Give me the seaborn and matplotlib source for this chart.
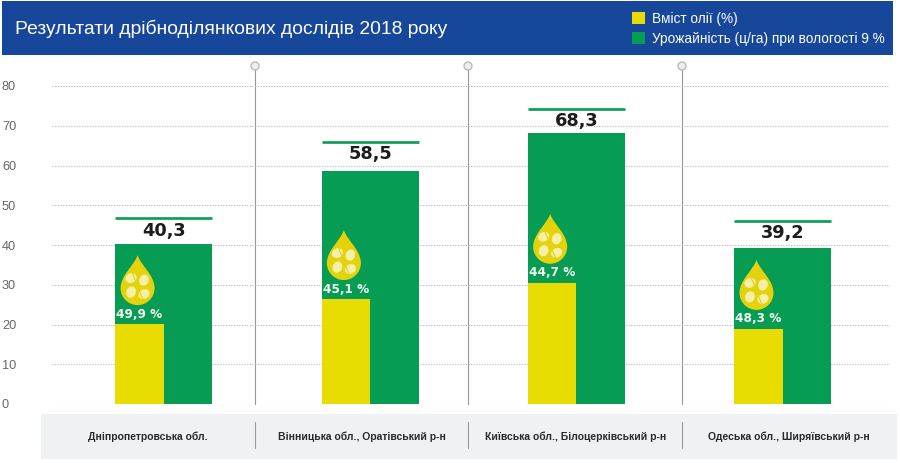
import matplotlib
matplotlib.use("Agg")
import matplotlib.pyplot as plt
import pandas as pd
import seaborn as sns
from matplotlib.patches import Circle, Ellipse, PathPatch, Rectangle
from matplotlib.path import Path
from matplotlib.transforms import Affine2D, ScaledTranslation

TITLE = "Результати дрібноділянкових дослідів 2018 року"
regions = ["Дніпропетровська обл.", "Вінницька обл., Оратівський р-н",
           "Київська обл., Білоцерківський р-н", "Одеська обл., Ширяївський р-н"]
series_names = ["Вміст олії (%)", "Урожайність (ц/га) при вологості 9 %"]
yield_values = [40.3, 58.5, 68.3, 39.2]
oil_bar_heights = [20.1, 26.4, 30.5, 18.9]
oil_percent = [49.9, 45.1, 44.7, 48.3]
y_ticks = [0, 10, 20, 30, 40, 50, 60, 70, 80]

YELLOW = "#e9dc02"
GREEN = "#079c54"
BLUE = "#17479a"
PALE = "#f6efa6"
DROP = "#e4d20c"
W, H = 900, 463

sns.set_theme(style="white")
plt.rcParams["font.family"] = ["Liberation Sans", "DejaVu Sans"]

fig = plt.figure(figsize=(W / 100, H / 100), dpi=100, facecolor="white")

# Page furniture lives on a full-figure layer addressed in pixels, y downwards.
page = fig.add_axes([0, 0, 1, 1], zorder=0)
page.set_xlim(0, W)
page.set_ylim(H, 0)
page.axis("off")
page.add_patch(Rectangle((2, 1), 891, 54, color=BLUE, lw=0))
page.add_patch(Rectangle((41, 414), 856, 45, color="#f0f1f3", lw=0))
page.text(15, 29, TITLE, color="white", fontsize=13.85, va="center", ha="left")
for sx in (255, 468, 682):
    page.plot([sx, sx], [70, 404], color="#969696", lw=0.8, zorder=3)
    page.plot([sx, sx], [422, 448], color="#9a9a9a", lw=0.8, zorder=3)
    page.add_patch(Circle((sx, 66), 4, fc="#eeeeee", ec="#b5b5b5", lw=0.9, zorder=4))

# The yield bar takes the full slot; the oil bar covers its left half.
ax = fig.add_axes([52 / W, (H - 404) / H, 838 / W, 318 / H], zorder=1)
ax.patch.set_alpha(0)
yield_table = pd.DataFrame({"region": regions, "value": yield_values})
oil_table = pd.DataFrame({"region": regions, "value": oil_bar_heights,
                          "series": series_names[0]})
sns.barplot(data=yield_table, x="region", y="value", color=GREEN, width=0.47,
            saturation=1, edgecolor="none", linewidth=0, ax=ax)
sns.barplot(data=oil_table, x="region", y="value", hue="series", hue_order=series_names,
            palette=[YELLOW, GREEN], width=0.47, gap=0, saturation=1,
            edgecolor="none", linewidth=0, ax=ax)
handles, labels = ax.get_legend_handles_labels()
ax.get_legend().remove()

green_bars = ax.containers[0]
yellow_bars = ax.containers[1]
for bar in yellow_bars:
    bar.set_width(bar.get_width() / 2)

ax.set_xlim(-0.542, 3.52)
ax.set_ylim(0, 80)
ax.set_yticks(y_ticks)
ax.set_xlabel("")
ax.set_ylabel("")
ax.set_axisbelow(True)
ax.yaxis.grid(True, color="#b4b4b4", lw=0.8, linestyle=(0, (1, 1.4)))
ax.xaxis.grid(False)
sns.despine(ax=ax, left=True, bottom=True, top=True, right=True)
ax.tick_params(axis="y", length=0, pad=36, labelsize=9.2, labelcolor="#666666")
ax.tick_params(axis="x", length=0, pad=20, labelsize=7.5, labelcolor="#2a2a2a")
for tick in ax.get_yticklabels():
    tick.set_ha("left")

# Region captions sit unevenly inside their grey cells.
caption_shift_px = [-16, -8, -1, 6]
for tick, shift in zip(ax.get_xticklabels(), caption_shift_px):
    tick.set_fontweight("bold")
    tick.set_transform(tick.get_transform() + ScaledTranslation(shift / 100, 0, fig.dpi_scale_trans))

# Oil-drop emblem, in pixels above its anchor point.
drop_path = Path(
    [(0, 50), (3, 40), (17, 30), (17, 17), (17, 7.6), (9.4, 0), (0, 0),
     (-9.4, 0), (-17, 7.6), (-17, 17), (-17, 30), (-3, 40), (0, 50), (0, 50)],
    [Path.MOVETO] + [Path.CURVE4] * 12 + [Path.CLOSEPOLY],
)


def add_emblem(anchor):
    place = Affine2D().translate(*anchor)
    ax.add_patch(PathPatch(drop_path, fc=DROP, ec="none", transform=place, zorder=5))
    for px, py, angle in [(-6.5, 27, 25), (6.5, 25, 70), (-6.5, 13, 70), (6.5, 11, 25)]:
        ax.add_patch(Ellipse((px, py), 11.5, 9.5, angle=angle, fc=PALE, ec="none",
                             transform=place, zorder=6))
    ax.plot([-6, 6], [34, 4], color=DROP, lw=0.8, transform=place, zorder=7)


# Gaps above each bar for the rule and the figure, in value units.
rule_gaps = [6.5, 7.3, 6.0, 6.9]
figure_gaps = [3.2, 4.3, 2.9, 3.8]

for i in range(len(regions)):
    ybar, gbar = yellow_bars[i], green_bars[i]
    left = gbar.get_x()
    right = left + gbar.get_width()
    centre = (left + right) / 2
    ymid = ybar.get_x() + ybar.get_width() / 2

    # Yield figure with its rule above the bar.
    ax.plot([left, right], [yield_values[i] + rule_gaps[i]] * 2, color=GREEN, lw=1.9,
            solid_capstyle="butt", clip_on=False, zorder=4)
    ax.text(centre, yield_values[i] + figure_gaps[i], f"{yield_values[i]:.1f}".replace(".", ","),
            ha="center", va="center", fontsize=12.8, fontweight="bold",
            family="DejaVu Sans", color="#1c1c1c", zorder=4)

    # Oil percentage and emblem above the yellow bar.
    ax.text(ymid, oil_bar_heights[i] + 2.5, f"{oil_percent[i]:.1f} %".replace(".", ","),
            ha="center", va="center", fontsize=8.7, fontweight="bold",
            family="DejaVu Sans", color="#f4fbef", zorder=5)
    px, py = ax.transData.transform((ymid, oil_bar_heights[i]))
    add_emblem((px - 2, py + 19))

legend = fig.legend(handles, labels, loc="upper left", bbox_to_anchor=(625 / W, 1 - 5 / H),
                    frameon=False, fontsize=9.85, labelcolor="white", handlelength=0.95,
                    handleheight=0.95, handletextpad=0.55, labelspacing=0.42,
                    borderaxespad=0, borderpad=0.5)

fig.savefig("out.png", dpi=100)
